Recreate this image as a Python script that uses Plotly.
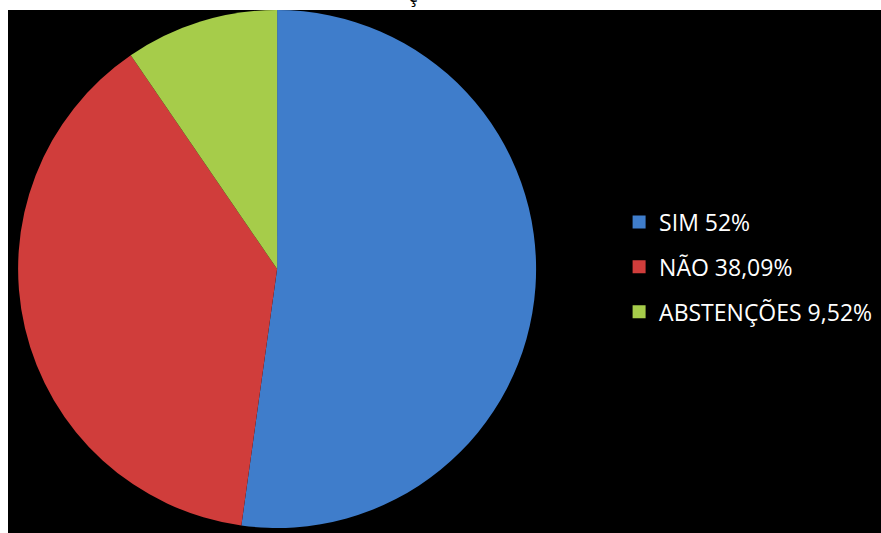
import plotly.graph_objects as go

# dados da votação
labels = ["SIM 52%", "NÃO 38,09%", "ABSTENÇÕES 9,52%"]
valores = [52, 38.09, 9.52]
cores = ["#3F7DCB", "#D03D3B", "#A6CC4A"]

fig = go.Figure()

fig.add_trace(go.Pie(
    labels=labels,
    values=valores,
    marker=dict(colors=cores, line=dict(width=0)),
    sort=False,
    direction="clockwise",
    rotation=0,
    textinfo="none",
    showlegend=False,
    domain=dict(x=[0.0115, 0.605], y=[0.0096, 1.0]),
))

# legenda (um item por grupo para controlar o espaçamento)
for i, lab in enumerate(labels):
    fig.add_trace(go.Scatter(
        x=[None], y=[None], mode="markers", name=lab,
        marker=dict(symbol="square", size=13, color=cores[i]),
        legendgroup=str(i), showlegend=True,
    ))

fig.update_layout(
    width=881, height=533,
    paper_bgcolor="white",
    plot_bgcolor="black",
    margin=dict(l=8, r=0, t=10, b=0),
    xaxis=dict(visible=False),
    yaxis=dict(visible=False),
    legend=dict(
        x=0.700, xanchor="left",
        y=0.5086, yanchor="middle",
        font=dict(family="Open Sans", size=23, color="white"),
        bgcolor="rgba(0,0,0,0)",
        tracegroupgap=12,
        traceorder="grouped",
    ),
    annotations=[dict(
        text="ç", x=(413 - 8) / 873, y=1 + 16 / 523,
        xref="paper", yref="paper", xanchor="center", yanchor="middle",
        showarrow=False, font=dict(family="Open Sans", size=20, color="black"),
    )],
)

# sem margem do body: a figura fica no canto da janela
fig.write_html("out.html", config={"displayModeBar": False},
               post_script="document.body.style.margin='0';")
